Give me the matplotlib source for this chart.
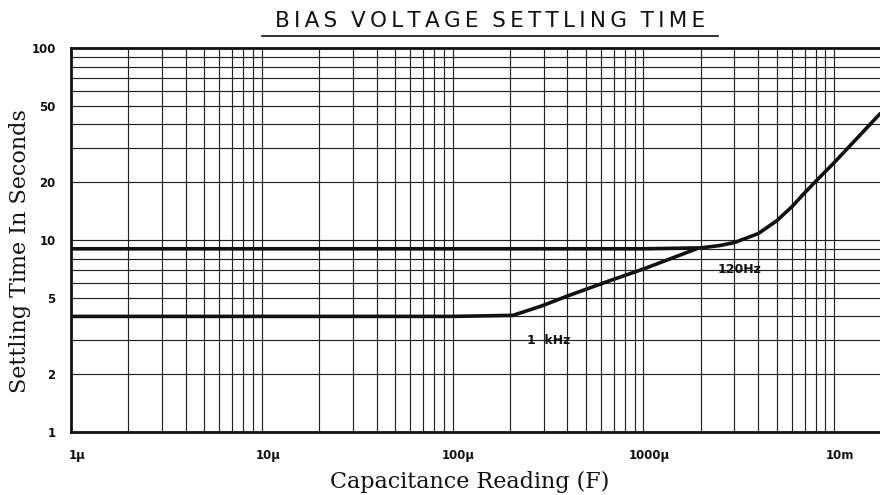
import matplotlib
matplotlib.use("Agg")
import matplotlib.pyplot as plt
import matplotlib.transforms as mtransforms

# settling time curves (capacitance in F, time in s)
cap_120hz = [1e-6, 1e-5, 1e-4, 1e-3, 2e-3, 2.5e-3, 3e-3, 4e-3, 5e-3, 6e-3, 7e-3, 8e-3, 1e-2, 1.74e-2]
time_120hz = [9.0, 9.0, 9.0, 9.0, 9.1, 9.35, 9.7, 10.8, 12.6, 14.9, 17.6, 20.2, 25.3, 45.5]

cap_1khz = [1e-6, 1e-5, 1e-4, 2.07e-4, 2.4e-4, 2.94e-4, 3.98e-4, 6.85e-4, 1e-3, 1.9e-3]
time_1khz = [4.0, 4.0, 4.0, 4.05, 4.25, 4.54, 5.1, 6.2, 7.06, 9.0]

xtick_vals = [1e-6, 1e-5, 1e-4, 1e-3, 1e-2]
xtick_labels = ["1\u00b5", "10\u00b5", "100\u00b5", "1000\u00b5", "10m"]
ytick_vals = [1, 2, 5, 10, 20, 50, 100]
ytick_labels = ["1", "2", "5", "10", "20", "50", "100"]

title = "BIAS VOLTAGE SETTLING TIME"

ink = "#111111"

fig = plt.figure(figsize=(8.8, 4.95), dpi=100)
ax = fig.add_axes([71 / 880, 1 - 432 / 495, 1 - 71 / 880, (432 - 48) / 495])
ax.set_xscale("log")
ax.set_yscale("log")
ax.set_xlim(1e-6, 1.738e-2)
ax.set_ylim(1, 100)

# full log grid: every integer multiple inside each decade
for dec in range(-6, -1):
    for m in range(1, 10):
        xv = m * 10.0 ** dec
        if 1e-6 < xv < 1.738e-2:
            ax.axvline(xv, color="#222222", lw=0.85, zorder=1)
for dec in range(0, 2):
    for m in range(1, 10):
        yv = m * 10.0 ** dec
        if 1 < yv < 100:
            ax.axhline(yv, color="#222222", lw=0.85, zorder=1)

ax.plot(cap_120hz, time_120hz, color=ink, lw=2.6, solid_joinstyle="round",
        solid_capstyle="round", zorder=3)
ax.plot(cap_1khz, time_1khz, color=ink, lw=2.6, solid_joinstyle="round",
        solid_capstyle="round", zorder=3)

ax.text(2.46e-3, 7.0, "120Hz", fontsize=9, fontweight="bold", color=ink,
        ha="left", va="center", zorder=4)
ax.text(2.45e-4, 3.0, "1  kHz", fontsize=9, fontweight="bold", color=ink,
        ha="left", va="center", zorder=4)

for side in ["left", "bottom", "top"]:
    ax.spines[side].set_linewidth(2.0)
    ax.spines[side].set_color(ink)
ax.spines["right"].set_visible(False)

ax.set_xticks(xtick_vals)
ax.set_xticklabels(xtick_labels)
ax.set_yticks(ytick_vals)
ax.set_yticklabels(ytick_labels)
ax.minorticks_off()
ax.tick_params(axis="both", length=0, labelsize=8.5, colors=ink)
ax.tick_params(axis="x", pad=12)
ax.tick_params(axis="y", pad=11)
shift = mtransforms.ScaledTranslation(6 / 100, 0, fig.dpi_scale_trans)
for lab in ax.get_xticklabels():
    lab.set_fontweight("bold")
    lab.set_transform(lab.get_transform() + shift)
for lab in ax.get_yticklabels():
    lab.set_fontweight("bold")

fig.text(470 / 880, 1 - 482 / 495, "Capacitance Reading (F)", family="DejaVu Serif",
         fontsize=16, ha="center", va="center", color=ink)
fig.text(20 / 880, 1 - 251 / 495, "Settling Time In Seconds", family="DejaVu Serif",
         fontsize=16, ha="center", va="center", rotation=90, color=ink)

# letter-spaced title with an underline
spaced = "  ".join("\u2009".join(word) for word in title.split())
fig.text(490 / 880, 1 - 21 / 495, spaced, fontsize=15.5,
         ha="center", va="center", color=ink)
fig.add_artist(plt.Line2D([262 / 880, 718 / 880], [1 - 36 / 495, 1 - 36 / 495],
                          color=ink, lw=1.2))

fig.savefig("out.png", dpi=100)
